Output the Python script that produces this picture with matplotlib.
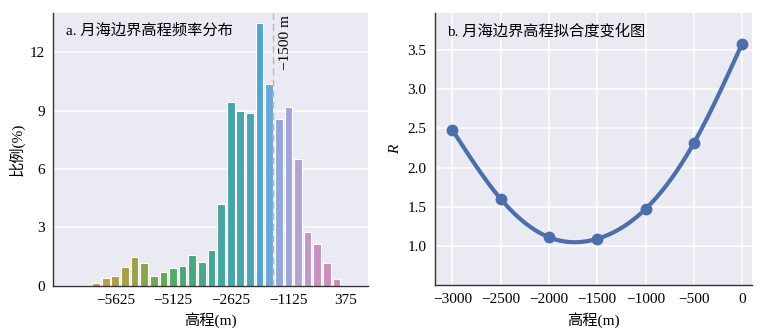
#!/usr/bin/env python3
"""Lunar mare boundary elevation: frequency histogram + fit-degree curve."""
import numpy as np
import matplotlib; matplotlib.use('Agg')
import matplotlib.pyplot as plt
from matplotlib.colors import LinearSegmentedColormap

# panel a: 250 m bins, each bar labelled by its left edge, first bin at -7125 m
BIN_START = -7125
BIN_W = 250
freq = [0, 0, 0, 0,
        0.14, 0.42, 0.50, 0.97, 1.48, 1.16, 0.50, 0.71, 0.90, 1.03,
        1.59, 1.22, 1.84, 4.22, 9.44, 9.00, 8.89, 13.49, 10.38, 8.58,
        9.18, 6.52, 2.74, 2.16, 1.16, 0.33, 0.03,
        0, 0]
tick_vals = [-5625, -4125, -2625, -1125, 375]
tick_lbls = ["\u22125625", "\u22125125", "\u22122625", "\u22121125", "375"]
REF_ELEV = -1500

# panel b
elev = [-3000, -2500, -2000, -1500, -1000, -500, 0]
R = [2.48, 1.60, 1.11, 1.09, 1.47, 2.31, 3.58]

FAM = ['Liberation Serif', 'Noto Sans CJK SC']
plt.rcParams['font.family'] = FAM
plt.rcParams['font.size'] = 11
BG = '#EAEAF2'
EDGE = '#333333'

# muted husl-like ramp (orange -> olive -> green -> teal -> blue -> purple -> pink)
ramp = LinearSegmentedColormap.from_list('ramp', [
    (0.00, '#c8964a'), (0.15, '#a0a048'), (0.27, '#5faa55'), (0.35, '#48a878'),
    (0.50, '#45a5a0'), (0.62, '#48a5b8'), (0.65, '#50a5cc'), (0.69, '#6aa8d8'),
    (0.73, '#90a8dc'), (0.81, '#b4a2d2'), (0.88, '#c890c0'), (1.00, '#d888b0')])


def to_idx(v):
    # elevation -> bar position (bar i sits at its left-edge value)
    return (v - BIN_START) / BIN_W


def natural_spline(x, y, xs):
    x = np.asarray(x, float); y = np.asarray(y, float)
    n = len(x); h = np.diff(x)
    A = np.zeros((n, n)); b = np.zeros(n)
    A[0, 0] = A[-1, -1] = 1
    for i in range(1, n - 1):
        A[i, i-1] = h[i-1]; A[i, i] = 2*(h[i-1]+h[i]); A[i, i+1] = h[i]
        b[i] = 3*((y[i+1]-y[i])/h[i] - (y[i]-y[i-1])/h[i-1])
    c = np.linalg.solve(A, b)
    j = np.clip(np.searchsorted(x, xs) - 1, 0, n - 2)
    dx = xs - x[j]
    bj = (y[j+1]-y[j])/h[j] - h[j]*(2*c[j]+c[j+1])/3
    dj = (c[j+1]-c[j])/(3*h[j])
    return y[j] + bj*dx + c[j]*dx**2 + dj*dx**3


def style(ax):
    ax.set_facecolor(BG)
    for s in ['top', 'right']: ax.spines[s].set_visible(False)
    for s in ['left', 'bottom']:
        ax.spines[s].set_color(EDGE); ax.spines[s].set_linewidth(1.0)
    ax.tick_params(length=0, pad=6)
    ax.set_axisbelow(True)


fig = plt.figure(figsize=(7.68, 3.36), dpi=100)

# ---- a ----
ax = fig.add_axes([0.0694, 0.1497, 0.4094, 0.8107])
style(ax)
n = len(freq)
# colour ramp spans the populated bins (4..30)
pal = [ramp(np.clip((i - 4) / 26, 0, 1)) for i in range(n)]
ax.bar(np.arange(n), freq, width=0.8, color=pal, edgecolor='white', linewidth=0.8, zorder=2)
ax.grid(axis='y', color='white', linewidth=1.1, zorder=0)
ax.set_xlim(-0.45, n - 0.75)
ax.set_ylim(0, 14)
ax.set_yticks([0, 3, 6, 9, 12])
ax.set_xticks([to_idx(v) for v in tick_vals])
ax.set_xticklabels(tick_lbls)
rx = to_idx(REF_ELEV) - 0.15
ax.axvline(rx, color='#b8b8b8', linestyle=(0, (5, 3)), linewidth=1.0, zorder=3)
ax.text(rx + 1.35, 13.9, "\u22121500 m", rotation=90, ha='center', va='top')
ax.text(0.04, 0.935, "a. 月海边界高程频率分布", transform=ax.transAxes, ha='left', va='center')
ax.set_xlabel("高程(m)", labelpad=4)
ax.set_ylabel("比例(%)", labelpad=4)

# ---- b ----
ax2 = fig.add_axes([0.5664, 0.1518, 0.4124, 0.8086])
style(ax2)
ax2.grid(True, color='white', linewidth=1.1, zorder=0)
xs = np.linspace(elev[0], elev[-1], 300)
blue = '#4C6FAC'
ax2.plot(xs, natural_spline(elev, R, xs), color=blue, linewidth=3.0, zorder=2)
ax2.plot(elev, R, 'o', color=blue, markersize=7.5, zorder=3)
ax2.set_xlim(-3180, 100)
ax2.set_ylim(0.5, 3.97)
ax2.set_xticks(elev)
ax2.set_yticks([1.0, 1.5, 2.0, 2.5, 3.0, 3.5])
ax2.set_yticklabels([f"{v:.1f}" for v in [1.0, 1.5, 2.0, 2.5, 3.0, 3.5]])
ax2.text(0.037, 0.935, "b. 月海边界高程拟合度变化图", transform=ax2.transAxes, ha='left', va='center')
ax2.set_xlabel("高程(m)", labelpad=4)
ax2.set_ylabel("R", fontstyle='italic', labelpad=4)

fig.savefig("out.png", dpi=100)
print("Saved out.png")
